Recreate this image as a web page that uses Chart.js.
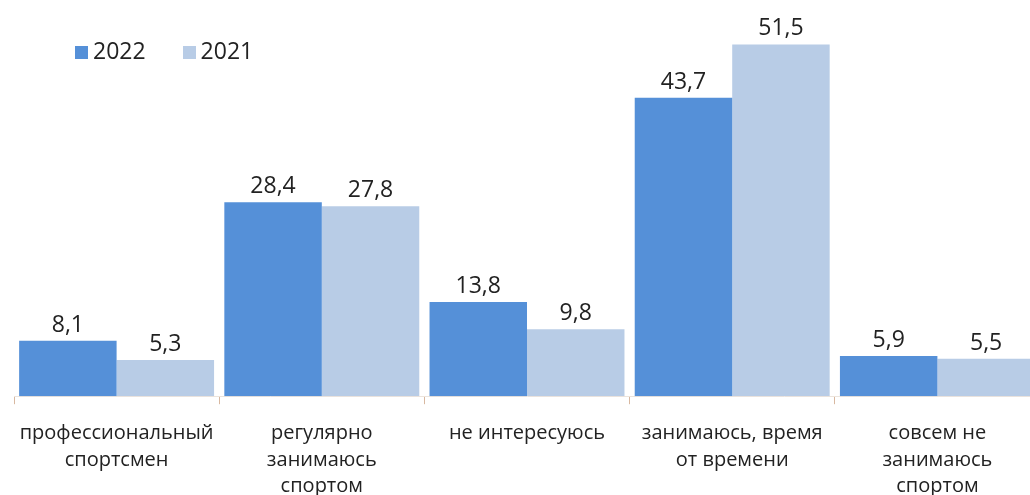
<!DOCTYPE html>
<html>
<head>
<meta charset="utf-8">
<script src="https://cdn.jsdelivr.net/npm/chart.js@4"></script>
<style>
    html, body { margin: 0; padding: 0; background: #fff; overflow: hidden; }
    #wrap { position: relative; width: 1040px; height: 495px; overflow: hidden; }
    #legend { position: absolute; left: 75px; top: 34px; font: 23px "Open Sans", sans-serif; color: #222; }
    #legend span.box { display: inline-block; width: 13px; height: 13px; margin-right: 5px; vertical-align: 0px; }
    #legend span.item { margin-right: 37px; }
</style>
</head>
<body>
<div id="wrap">
    <canvas id="sportChart" width="1040" height="516"></canvas>
    <div id="legend"></div>
</div>
<script>
// Отношение к спорту, 2022 vs 2021
const categories = [
    ['профессиональный', 'спортсмен'],
    ['регулярно', 'занимаюсь', 'спортом'],
    ['не интересуюсь'],
    ['занимаюсь, время', 'от времени'],
    ['совсем не', 'занимаюсь', 'спортом']
];
const values2022 = [8.1, 28.4, 13.8, 43.7, 5.9];
const values2021 = [5.3, 27.8, 9.8, 51.5, 5.5];
const seriesNames = ['2022', '2021'];
const seriesColors = ['#5590D8', '#B8CCE6'];

// подписи значений над столбцами
const valueLabels = {
    id: 'valueLabels',
    afterDatasetsDraw(chart) {
        const ctx = chart.ctx;
        ctx.save();
        ctx.font = '23px "Open Sans", sans-serif';
        ctx.fillStyle = '#222';
        ctx.textAlign = 'center';
        ctx.textBaseline = 'bottom';
        chart.data.datasets.forEach((ds, i) => {
            chart.getDatasetMeta(i).data.forEach((bar, j) => {
                ctx.fillText(ds.data[j].toFixed(1).replace('.', ','), bar.x, bar.y - 4);
            });
        });
        ctx.restore();
    }
};

const ctx = document.getElementById('sportChart').getContext('2d');
const sportChart = new Chart(ctx, {
    type: 'bar',
    data: {
        labels: categories,
        datasets: [
            { label: seriesNames[0], data: values2022, backgroundColor: seriesColors[0] },
            { label: seriesNames[1], data: values2021, backgroundColor: seriesColors[1] }
        ]
    },
    options: {
        responsive: false,
        animation: false,
        categoryPercentage: 0.95,
        barPercentage: 1,
        layout: { padding: { left: 14, right: 0, top: 0, bottom: 0 } },
        plugins: {
            legend: { display: false },
            tooltip: { enabled: false }
        },
        scales: {
            y: {
                display: false,
                min: 0,
                max: 58
            },
            x: {
                border: { color: '#ECE4DC' },
                grid: {
                    drawOnChartArea: false,
                    drawTicks: true,
                    tickLength: 8,
                    color: '#D8B8A0'
                },
                ticks: {
                    color: '#222',
                    padding: 16,
                    maxRotation: 0,
                    autoSkip: false,
                    font: { family: '"Open Sans", sans-serif', size: 20, lineHeight: 1.33 }
                }
            }
        }
    },
    plugins: [valueLabels]
});

// легенда
const legend = document.getElementById('legend');
seriesNames.forEach((name, i) => {
    const item = document.createElement('span');
    item.className = 'item';
    item.innerHTML = '<span class="box" style="background:' + seriesColors[i] + '"></span>' + name;
    legend.appendChild(item);
});
</script>
</body>
</html>
